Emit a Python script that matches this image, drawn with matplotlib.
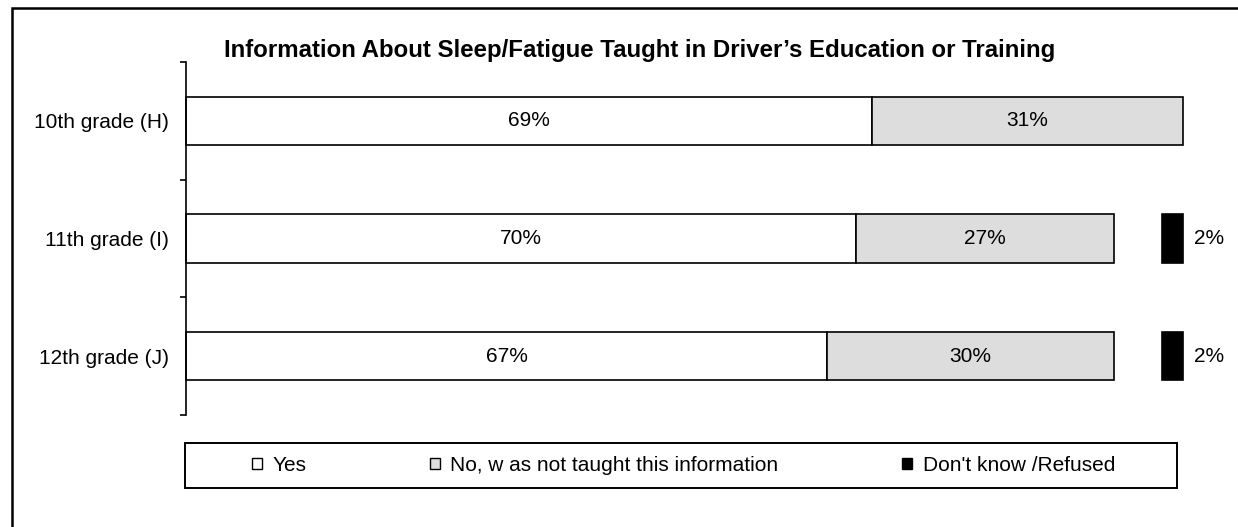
import matplotlib
matplotlib.use("Agg")
import matplotlib.pyplot as plt
from matplotlib.patches import Patch, Rectangle

plt.rcParams['font.family'] = ['Liberation Sans', 'DejaVu Sans']

# Chart data (bar lengths as drawn, printed labels as shown)
categories = ['10th grade (H)', '11th grade (I)', '12th grade (J)']
yes_vals = [68.8, 67.2, 64.3]
no_vals = [31.2, 25.9, 28.8]
spacer_vals = [0.0, 4.8, 4.8]  # invisible gap before "Don't know"
dk_vals = [0.0, 2.1, 2.1]
yes_labels = ['69%', '70%', '67%']
no_labels = ['31%', '27%', '30%']
dk_labels = ['', '2%', '2%']
series_names = ['Yes', 'No, w as not taught this information', "Don't know /Refused"]
series_colors = ['white', '#dddddd', 'black']

title = "Information About Sleep/Fatigue Taught in Driver\u2019s Education or Training"

W, H = 1238, 527
fig = plt.figure(figsize=(W / 100, H / 100), dpi=100)

# Axes placed to match the reference frame
ax = fig.add_axes([186 / W, 1 - 415 / H, (1183 - 186) / W, (415 - 62) / H])

ypos = list(range(len(categories)))
bar_h = 0.41
lw = 1.2

ax.barh(ypos, yes_vals, height=bar_h, color=series_colors[0], edgecolor='black',
        linewidth=lw, clip_on=False)
ax.barh(ypos, no_vals, left=yes_vals, height=bar_h, color=series_colors[1], edgecolor='black',
        linewidth=lw, clip_on=False)
dk_left = [y + n + s for y, n, s in zip(yes_vals, no_vals, spacer_vals)]
for i in ypos:
    if dk_vals[i] > 0:
        ax.barh(i, dk_vals[i], left=dk_left[i], height=bar_h, color=series_colors[2],
                edgecolor='black', linewidth=lw, clip_on=False)

# Value labels
for i in ypos:
    ax.text(yes_vals[i] / 2, i, yes_labels[i], ha='center', va='center', fontsize=15)
    ax.text(yes_vals[i] + no_vals[i] / 2, i, no_labels[i], ha='center', va='center', fontsize=15)
    if dk_labels[i]:
        ax.text(dk_left[i] + dk_vals[i] + 1.1, i, dk_labels[i], ha='left', va='center',
                fontsize=15, clip_on=False)

ax.set_xlim(0, 100)
ax.set_ylim(len(categories) - 0.5, -0.5)

for side in ['top', 'right', 'bottom']:
    ax.spines[side].set_visible(False)
ax.spines['left'].set_linewidth(lw)
ax.set_xticks([])

# Ticks at category boundaries, labels at category centers
ax.set_yticks([i - 0.5 for i in range(len(categories) + 1)])
ax.set_yticklabels([])
ax.tick_params(axis='y', which='major', length=4.5, width=lw, direction='out')
ax.set_yticks(ypos, minor=True)
ax.set_yticklabels(categories, minor=True, fontsize=15)
ax.tick_params(axis='y', which='minor', length=0, pad=12)

# Title
fig.text(640 / W, 1 - 57 / H, title, ha='center', va='baseline', fontsize=17.3, fontweight='bold')

# Legend with a box around it
handles = [Patch(facecolor=c, edgecolor='black', linewidth=1.0) for c in series_colors]
fig.legend(handles, series_names, ncol=3, mode='expand', frameon=False,
           loc='center', bbox_to_anchor=(252 / W, 1 - 488 / H, (1115 - 252) / W, 45 / H),
           fontsize=15, handlelength=0.48, handleheight=0.4, handletextpad=0.5,
           borderpad=0, borderaxespad=0, columnspacing=0)
fig.patches.append(Rectangle((185 / W, 1 - 488 / H), (1177 - 185) / W, 45 / H,
                             transform=fig.transFigure, fill=False, edgecolor='black', linewidth=1.4))

# Outer chart border (left and top edges visible)
fig.patches.append(Rectangle((12 / W, -0.1), 1.2, 1 - 7.5 / H + 0.1,
                             transform=fig.transFigure, fill=False, edgecolor='black', linewidth=1.8))

fig.savefig("out.png", dpi=100)
